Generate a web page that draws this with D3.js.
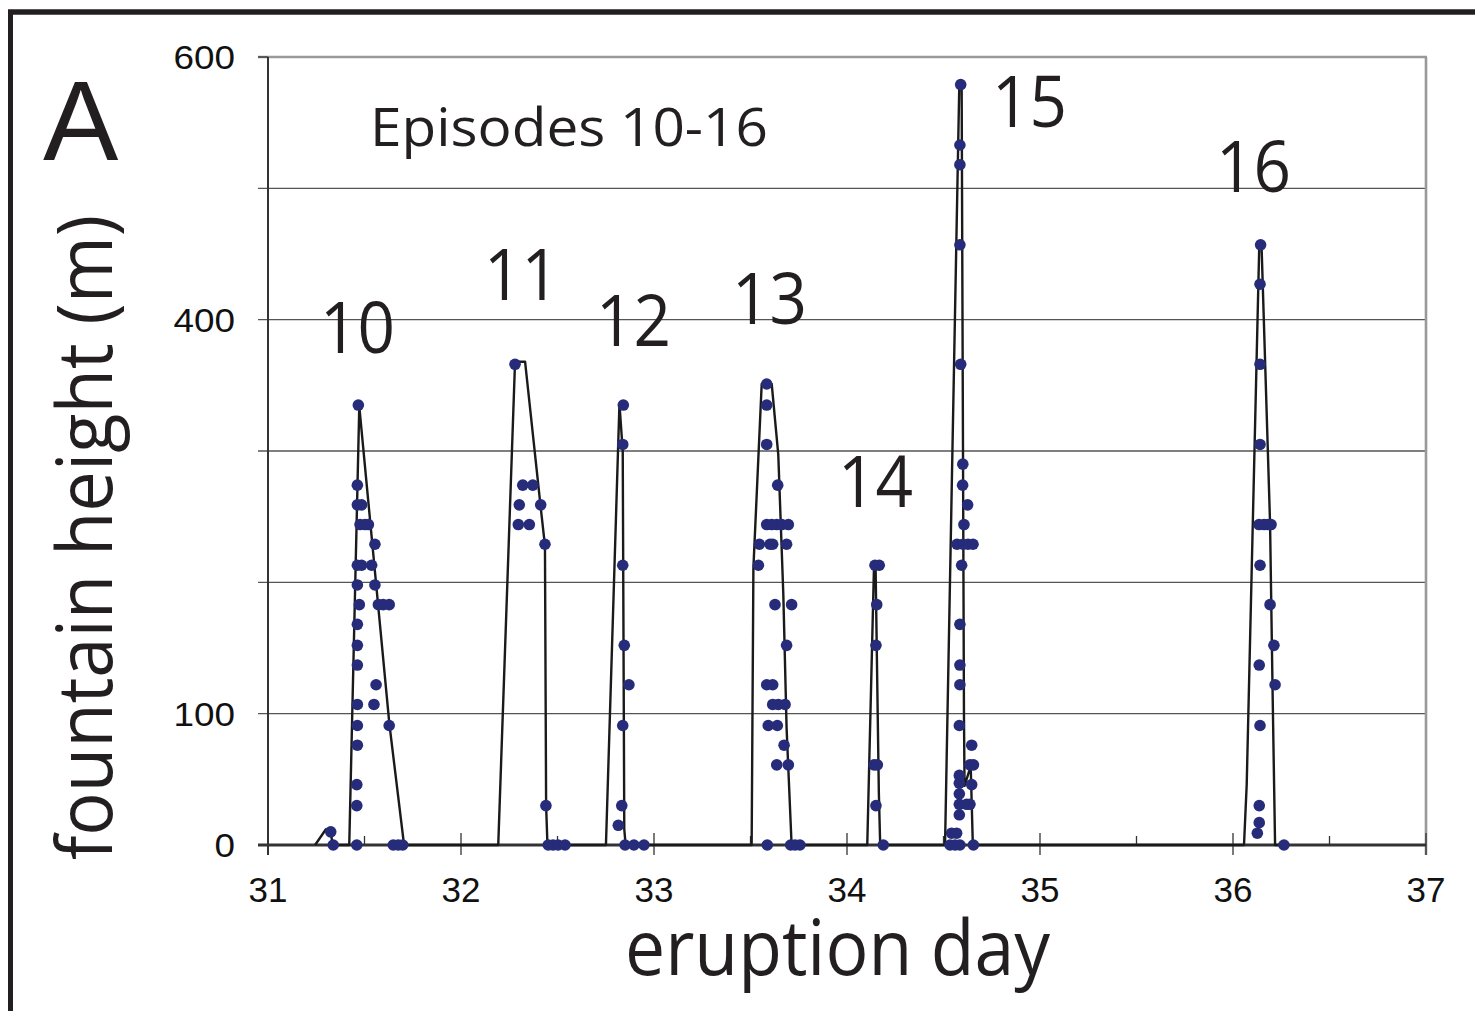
<!DOCTYPE html>
<html>
<head>
<meta charset="utf-8">
<script src="https://cdn.jsdelivr.net/npm/d3@7"></script>
<style>
  body { margin: 0; background: #fff; }
  svg { display: block; }
</style>
</head>
<body>
<div id="chart"></div>
<script>
// observations per episode: [eruption day, fountain height (m)]
const ep10 = [[31.325,10],[31.338,0],[31.460,0],[31.460,30],[31.460,46],[31.463,76],[31.463,91],[31.463,107],
  [31.463,137],[31.463,152],[31.463,168],[31.473,183],[31.463,198],[31.463,213],[31.463,259],[31.463,274],
  [31.468,335],[31.477,244],[31.485,259],[31.485,213],[31.503,244],[31.520,244],[31.537,213],[31.549,107],
  [31.554,229],[31.554,198],[31.560,122],[31.572,183],[31.597,183],[31.628,183],[31.628,91],
  [31.649,0],[31.675,0],[31.698,0]];
const ep11 = [[32.280,366],[32.320,274],[32.372,274],[32.302,259],[32.413,259],[32.297,244],[32.354,244],
  [32.435,229],[32.440,30],[32.452,0],[32.477,0],[32.503,0],[32.539,0]];
const ep12 = [[32.841,335],[32.838,305],[32.838,213],[32.846,152],[32.870,122],[32.838,91],[32.833,30],
  [32.815,15],[32.850,0],[32.896,0],[32.948,0]];
const ep13 = [[33.584,351],[33.584,335],[33.584,305],[33.641,274],[33.584,244],[33.610,244],[33.636,244],
  [33.662,244],[33.696,244],[33.546,229],[33.601,229],[33.615,229],[33.687,229],[33.541,213],[33.627,183],
  [33.713,183],[33.687,152],[33.584,122],[33.615,122],[33.615,107],[33.644,107],[33.679,107],[33.592,91],
  [33.639,91],[33.674,76],[33.636,61],[33.696,61],[33.587,0],[33.708,0],[33.731,0],[33.756,0]];
const ep14 = [[34.145,213],[34.167,213],[34.154,183],[34.150,152],[34.140,61],[34.157,61],[34.150,30],[34.188,0]];
const ep15 = [[34.589,579],[34.585,533],[34.585,518],[34.585,457],[34.589,366],[34.600,290],[34.599,274],
  [34.625,259],[34.606,244],[34.570,229],[34.601,229],[34.627,229],[34.653,229],[34.594,213],[34.585,168],
  [34.585,137],[34.585,122],[34.582,91],[34.646,76],[34.637,61],[34.655,61],[34.582,53],[34.582,47],
  [34.646,46],[34.582,39],[34.582,31],[34.620,31],[34.637,31],[34.582,23],[34.542,9],[34.568,9],
  [34.534,0],[34.560,0],[34.585,0],[34.655,0]];
const ep16 = [[36.143,457],[36.140,427],[36.140,366],[36.140,305],[36.135,244],[36.161,244],[36.181,244],
  [36.197,244],[36.140,213],[36.192,183],[36.212,152],[36.136,137],[36.218,122],[36.140,91],[36.136,30],
  [36.136,17],[36.126,9],[36.264,0]];

// hand-drawn envelope through the episodes
const envelopeDay = [31.244,31.300,31.325,31.335,31.421,31.473,31.629,31.705,
  32.193,32.280,32.332,32.413,32.435,32.441,32.448,
  32.751,32.821,32.838,32.846,32.853,
  33.506,33.515,33.558,33.610,33.644,33.670,33.687,33.713,
  34.105,34.140,34.148,34.165,34.172,
  34.508,34.582,34.594,34.606,34.609,34.641,34.652,
  36.057,36.071,36.136,36.148,36.192,36.205,36.218,36.264];
const envelopeHeight = [0,12,10,0,0,334,92,0,
  0,368,368,257,228,30,0,
  0,336,300,12,0,
  0,211,351,351,297,191,89,0,
  0,213,213,40,0,
  0,580,580,100,45,60,0,
  0,46,456,456,245,118,0,0];

const episodeNames = ["10","11","12","13","14","15","16"];
const episodeLabelDay = [31.269,32.119,32.699,33.404,33.953,34.751,35.912];
const episodeLabelHeight = [375,415,380,397,257,547,497];

const yGridValues = [0,100,200,300,400,500,600];
const yTickLabels = [0,100,400,600];
const xTickValues = [31,32,33,34,35,36,37];
const xMinorTicks = [31.5,32.5,33.5,34.5,35.5,36.5];

const W = 1475, H = 1011;
const svg = d3.select("#chart").append("svg").attr("width", W).attr("height", H);

const x = d3.scaleLinear().domain([31, 37]).range([268, 1426]);
const y = d3.scaleLinear().domain([0, 600]).range([845, 57]);

const sans = "'Open Sans', 'Noto Sans', sans-serif";
const arial = "'Liberation Sans', Arial, sans-serif";

// outer frame of the panel
svg.append("line").attr("x1", 8).attr("x2", W).attr("y1", 12).attr("y2", 12)
  .attr("stroke", "#231f20").attr("stroke-width", 5.5);
svg.append("line").attr("x1", 10.5).attr("x2", 10.5).attr("y1", 10).attr("y2", H)
  .attr("stroke", "#231f20").attr("stroke-width", 5);

// gridlines + left ticks
svg.selectAll("line.grid").data(yGridValues.filter(v => v > 0 && v < 600)).enter()
  .append("line").attr("class", "grid")
  .attr("x1", 258).attr("x2", x(37))
  .attr("y1", d => y(d)).attr("y2", d => y(d))
  .attr("stroke", "#555").attr("stroke-width", 1.3);

// plot border top/right (gray)
svg.append("line").attr("x1", 258).attr("x2", x(37) + 1).attr("y1", y(600)).attr("y2", y(600))
  .attr("stroke", "#999").attr("stroke-width", 2.6);
svg.append("line").attr("x1", x(37)).attr("x2", x(37)).attr("y1", y(600)).attr("y2", 855)
  .attr("stroke", "#999").attr("stroke-width", 2.6);
svg.append("line").attr("x1", 258).attr("x2", 268).attr("y1", y(600)).attr("y2", y(600))
  .attr("stroke", "#444").attr("stroke-width", 1.5);

// y axis
svg.append("line").attr("x1", x(31)).attr("x2", x(31)).attr("y1", y(600)).attr("y2", 855)
  .attr("stroke", "#333").attr("stroke-width", 2);

// x axis
svg.append("line").attr("x1", 258).attr("x2", x(37)).attr("y1", y(0)).attr("y2", y(0))
  .attr("stroke", "#333").attr("stroke-width", 2.8);
svg.selectAll("line.xmaj").data(xTickValues).enter().append("line").attr("class", "xmaj")
  .attr("x1", d => x(d)).attr("x2", d => x(d)).attr("y1", y(0) - 12).attr("y2", y(0) + 10)
  .attr("stroke", "#333").attr("stroke-width", 1.3);
svg.selectAll("line.xmin").data(xMinorTicks).enter().append("line").attr("class", "xmin")
  .attr("x1", d => x(d)).attr("x2", d => x(d)).attr("y1", y(0) - 9).attr("y2", y(0))
  .attr("stroke", "#333").attr("stroke-width", 1.3);

// tick labels
svg.selectAll("text.ylab").data(yTickLabels).enter().append("text").attr("class", "ylab")
  .attr("x", 235).attr("y", d => y(d) + 12)
  .attr("text-anchor", "end")
  .attr("font-family", arial).attr("font-size", 33).attr("fill", "#111")
  .attr("textLength", d => String(d).length * 20.5).attr("lengthAdjust", "spacingAndGlyphs")
  .text(d => d);
svg.selectAll("text.xlab").data(xTickValues).enter().append("text").attr("class", "xlab")
  .attr("x", d => x(d)).attr("y", 902)
  .attr("text-anchor", "middle")
  .attr("font-family", arial).attr("font-size", 35).attr("fill", "#111")
  .text(d => d);

// envelope line
const envelope = envelopeDay.map((d, i) => [d, envelopeHeight[i]]);
svg.append("path").datum(envelope)
  .attr("fill", "none").attr("stroke", "#1a1a1a").attr("stroke-width", 2.4)
  .attr("stroke-linejoin", "round")
  .attr("d", d3.line().x(d => x(d[0])).y(d => y(d[1])));

// observed points
const allObs = [].concat(ep10, ep11, ep12, ep13, ep14, ep15, ep16);
svg.selectAll("circle.obs").data(allObs).enter().append("circle").attr("class", "obs")
  .attr("cx", d => x(d[0])).attr("cy", d => y(d[1])).attr("r", 5.8)
  .attr("fill", "#262c7a");

// episode numbers
svg.selectAll("text.ep").data(episodeNames).enter().append("text").attr("class", "ep")
  .attr("x", (d, i) => x(episodeLabelDay[i])).attr("y", (d, i) => y(episodeLabelHeight[i]))
  .attr("font-family", sans).attr("font-size", 72).attr("fill", "#231f20")
  .attr("textLength", 75).attr("lengthAdjust", "spacingAndGlyphs")
  .text(d => d);

svg.append("text").attr("x", 370).attr("y", 146)
  .attr("font-family", sans).attr("font-size", 53).attr("fill", "#231f20")
  .attr("textLength", 398).attr("lengthAdjust", "spacingAndGlyphs")
  .text("Episodes 10-16");

// axis titles
svg.append("text").attr("x", 625).attr("y", 975)
  .attr("font-family", sans).attr("font-size", 76).attr("fill", "#231f20")
  .attr("textLength", 425).attr("lengthAdjust", "spacingAndGlyphs")
  .text("eruption day");
svg.append("text").attr("transform", "translate(112,860) rotate(-90)")
  .attr("font-family", sans).attr("font-size", 76).attr("fill", "#231f20")
  .attr("textLength", 645).attr("lengthAdjust", "spacingAndGlyphs")
  .text("fountain height (m)");

// panel letter
svg.append("text").attr("x", 43).attr("y", 160)
  .attr("font-family", arial).attr("font-size", 113).attr("fill", "#231f20")
  .text("A");
</script>
</body>
</html>
